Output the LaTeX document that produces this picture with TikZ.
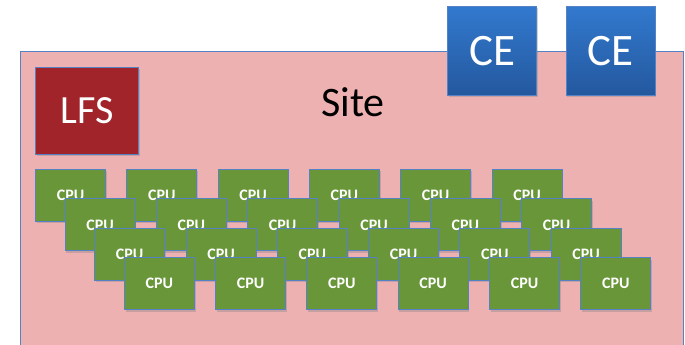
\documentclass[tikz,border=0pt]{standalone}
\usepackage{fontspec}
\setmainfont{Carlito}
\usepackage{xcolor}
\usepackage{tikz}
\usetikzlibrary{positioning, shadows}
\definecolor{sitePink}{RGB}{238, 177, 178}
\definecolor{siteEdge}{RGB}{84, 130, 196}
\definecolor{lfsRed}{RGB}{160, 36, 42}
\definecolor{ceTop}{RGB}{50, 121, 206}
\definecolor{ceBottom}{RGB}{36, 88, 158}
\definecolor{cpuGreen}{RGB}{104, 150, 56}

\begin{document}
\begin{tikzpicture}[
                x=1pt, y=-1pt,
                node distance=28.5pt,
                box/.style={rectangle, draw=siteEdge, line width=1pt, inner sep=0pt, anchor=north west, text=white,
                  drop shadow={shadow xshift=1.2pt, shadow yshift=-1.8pt, opacity=0.35}},
                site/.style={rectangle, draw=siteEdge, line width=1pt, fill=sitePink, anchor=north west, minimum width=663pt, minimum height=320pt},
                lfs/.style={box, fill=lfsRed, minimum width=103pt, minimum height=87pt, font=\fontsize{40}{48}\selectfont},
                ce/.style={box, top color=ceTop, bottom color=ceBottom, minimum width=89pt, minimum height=89pt, font=\fontsize{45}{54}\selectfont},
                cpu/.style={box, fill=cpuGreen, minimum width=70pt, minimum height=52pt, font=\fontsize{16}{19}\selectfont\bfseries}
            ]
                \useasboundingbox (0,0) rectangle (685,345);
                \clip (0,0) rectangle (685,345);

                % --- SITE ---
                \node[site] (site_box) at (20,51) {};
                \node[font=\fontsize{42}{50}\selectfont] (site_label) at (353,102) {Site};

                % --- LFS ---
                \node[lfs] (lfs) at (35,67) {LFS};

                % --- CE (TOP RIGHT) ---
                \node[ce] (ce_1) at (447,6) {CE};
                \node[ce, right=of ce_1.north east, anchor=north west] (ce_2) {CE};

                % --- CPU RACK ---
                \foreach \r in {1,...,4} {
                  \foreach \c in {1,...,6} {
                    \node[cpu] (cpu_\r_\c) at ({35+29.6*(\r-1)+91.3*(\c-1)}, {169+29.4*(\r-1)}) {CPU};
                  }
                }

\end{tikzpicture}
\end{document}
